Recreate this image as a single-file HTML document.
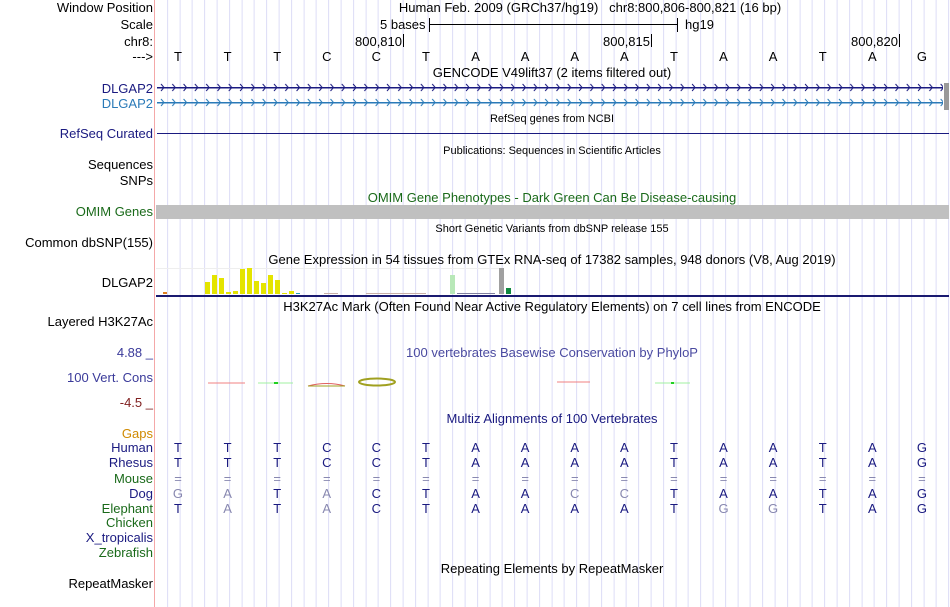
<!DOCTYPE html>
<html><head><meta charset="utf-8"><style>
body{margin:0;width:950px;height:607px;background:#fff;overflow:hidden;position:relative;font-family:"Liberation Sans",sans-serif;font-size:13px;color:#000}
.grid{position:absolute;left:156px;top:0;width:794px;height:607px;background:repeating-linear-gradient(90deg,transparent 0,transparent 11.4px,#dcdcf6 11.4px,#dcdcf6 12.4px);background-position:-0.4px 0}
.pink{position:absolute;left:154px;top:0;width:1px;height:607px;background:#f4a8a8}
.l{position:absolute;right:797px;white-space:nowrap;line-height:14px}
.t{position:absolute;white-space:nowrap;line-height:14px;transform:translateX(-50%)}
.s{font-size:11px}
.row{position:absolute;left:153.2px;display:flex;line-height:14px}
.row span{width:49.6px;text-align:center}
.g{color:#8888b0}
.abs{position:absolute}
</style></head><body>
<div class="grid"></div><div class="pink"></div>

<div class="l" style="top:1px">Window Position</div>
<div class="t" style="top:1px;left:590px">Human Feb. 2009 (GRCh37/hg19)&nbsp;&nbsp;&nbsp;chr8:800,806-800,821 (16 bp)</div>
<div class="l" style="top:18px">Scale</div>
<div class="abs" style="top:18px;left:380px;line-height:14px">5 bases</div>
<div class="abs" style="top:18px;left:429px;width:1px;height:14px;background:#000"></div>
<div class="abs" style="top:24px;left:429px;width:248px;height:1px;background:#000"></div>
<div class="abs" style="top:18px;left:677px;width:1px;height:14px;background:#000"></div>
<div class="abs" style="top:18px;left:685px;line-height:14px">hg19</div>
<div class="l" style="top:35px">chr8:</div>
<div class="abs" style="top:35px;left:355px;line-height:14px">800,810</div><div class="abs" style="top:34px;left:403px;width:1px;height:13px;background:#000"></div>
<div class="abs" style="top:35px;left:603px;line-height:14px">800,815</div><div class="abs" style="top:34px;left:651px;width:1px;height:13px;background:#000"></div>
<div class="abs" style="top:35px;left:851px;line-height:14px">800,820</div><div class="abs" style="top:34px;left:899px;width:1px;height:13px;background:#000"></div>
<div class="l" style="top:50px">---&gt;</div>
<div class="row" style="top:50px"><span>T</span><span>T</span><span>T</span><span>C</span><span>C</span><span>T</span><span>A</span><span>A</span><span>A</span><span>A</span><span>T</span><span>A</span><span>A</span><span>T</span><span>A</span><span>G</span></div>
<div class="t" style="top:66px;left:552px">GENCODE V49lift37 (2 items filtered out)</div>

<div class="l" style="top:82px;color:#1a1a80">DLGAP2</div>
<div class="l" style="top:97px;color:#2a7ab8">DLGAP2</div>
<svg class="abs" style="left:0;top:0" width="950" height="140">
<defs>
<pattern id="c1" x="157" y="0" width="11.3" height="140" patternUnits="userSpaceOnUse"><path d="M4 84 L7 87.5 L4 91" stroke="#1a1a80" fill="none" stroke-width="1"/></pattern>
<pattern id="c2" x="157" y="0" width="11.3" height="140" patternUnits="userSpaceOnUse"><path d="M4 99 L7 102.5 L4 106" stroke="#2a7ab8" fill="none" stroke-width="1"/></pattern>
</defs>
<rect x="157" y="87" width="786" height="1.5" fill="#1a1a80"/>
<rect x="157" y="80" width="786" height="14" fill="url(#c1)"/>
<rect x="157" y="102" width="786" height="1.5" fill="#2a7ab8"/>
<rect x="157" y="95" width="786" height="14" fill="url(#c2)"/>
<rect x="944" y="83" width="5" height="27" fill="#999"/>
<rect x="157" y="133" width="792" height="1" fill="#1a1a80"/>
</svg>

<div class="t s" style="top:112px;left:552px">RefSeq genes from NCBI</div>
<div class="l" style="top:127px;color:#1a1a80">RefSeq Curated</div>
<div class="t s" style="top:144px;left:552px">Publications: Sequences in Scientific Articles</div>
<div class="l" style="top:158px">Sequences</div>
<div class="l" style="top:174px">SNPs</div>
<div class="t" style="top:191px;left:552px;color:#1a6a1a">OMIM Gene Phenotypes - Dark Green Can Be Disease-causing</div>
<div class="l" style="top:205px;color:#1a6a1a">OMIM Genes</div>
<div class="abs" style="top:205px;left:156px;width:793px;height:14px;background:#c0c0c0"></div>
<div class="t s" style="top:222px;left:552px">Short Genetic Variants from dbSNP release 155</div>
<div class="l" style="top:236px">Common dbSNP(155)</div>
<div class="t" style="top:253px;left:552px">Gene Expression in 54 tissues from GTEx RNA-seq of 17382 samples, 948 donors (V8, Aug 2019)</div>
<div class="l" style="top:276px">DLGAP2</div>
<div class="abs" style="top:268px;left:156px;width:346px;height:27px;border-top:1px solid #eee"></div>
<svg class="abs" style="left:0;top:0" width="950" height="300">
<g>
<rect x="163" y="292" width="4" height="2" fill="#e08020"/>
<rect x="205" y="282" width="5" height="12" fill="#e4e400"/>
<rect x="212" y="275" width="5" height="19" fill="#e4e400"/>
<rect x="219" y="278" width="5" height="16" fill="#e4e400"/>
<rect x="226" y="292" width="5" height="2" fill="#e4e400"/>
<rect x="233" y="291" width="5" height="3" fill="#e4e400"/>
<rect x="240" y="269" width="5" height="25" fill="#e4e400"/>
<rect x="247" y="268" width="5" height="26" fill="#e4e400"/>
<rect x="254" y="281" width="5" height="13" fill="#e4e400"/>
<rect x="261" y="283" width="5" height="11" fill="#e4e400"/>
<rect x="268" y="275" width="5" height="19" fill="#e4e400"/>
<rect x="275" y="280" width="5" height="14" fill="#e4e400"/>
<rect x="282" y="293" width="5" height="1" fill="#e4e400"/>
<rect x="289" y="291" width="5" height="3" fill="#e4e400"/>
<rect x="296" y="293" width="4" height="1" fill="#20a0c0"/>
<rect x="324" y="293" width="14" height="1" fill="#c8b0a8"/>
<rect x="366" y="293" width="60" height="1" fill="#c8b0a8"/>
<rect x="450" y="275" width="5" height="19" fill="#b8e8b8"/>
<rect x="457" y="293" width="38" height="1" fill="#8080a0"/>
<rect x="499" y="268" width="5" height="26" fill="#a0a0a0"/>
<rect x="506" y="288" width="5" height="6" fill="#108840"/>
<rect x="156" y="295" width="793" height="2" fill="#1a1a70"/>
<rect x="156" y="342" width="793" height="1" fill="#5544aa"/>
</g></svg>
<div class="t" style="top:300px;left:552px">H3K27Ac Mark (Often Found Near Active Regulatory Elements) on 7 cell lines from ENCODE</div>
<div class="l" style="top:315px">Layered H3K27Ac</div>

<div class="l" style="top:346px;color:#3a3a9a">4.88 _</div>
<div class="t" style="top:346px;left:552px;color:#4a4aa0">100 vertebrates Basewise Conservation by PhyloP</div>
<div class="l" style="top:371px;color:#3a3a9a">100 Vert. Cons</div>
<div class="l" style="top:396px;color:#802020">-4.5 _</div>
<svg class="abs" style="left:0;top:370px" width="950" height="25">
<line x1="208" y1="13" x2="245" y2="13" stroke="#f08080" stroke-width="1"/>
<line x1="258" y1="13" x2="293" y2="13" stroke="#a0f0a0" stroke-width="1"/>
<rect x="274" y="12" width="4" height="2" fill="#20d020"/>
<path d="M308 16 Q327 11 345 16" stroke="#e06060" fill="none"/>
<line x1="308" y1="16" x2="345" y2="16" stroke="#a0a020"/>
<ellipse cx="377" cy="12" rx="18" ry="3.5" fill="none" stroke="#a0a020" stroke-width="2"/>
<line x1="557" y1="12" x2="590" y2="12" stroke="#f08080"/>
<line x1="655" y1="13" x2="690" y2="13" stroke="#a0f0a0"/>
<rect x="671" y="12" width="3" height="2" fill="#20d020"/>
</svg>

<div class="t" style="top:412px;left:552px;color:#1a1a80">Multiz Alignments of 100 Vertebrates</div>
<div class="l" style="top:427px;color:#d08a00">Gaps</div>
<div class="l" style="top:441px;color:#1a1a80">Human</div>
<div class="l" style="top:456px;color:#1a1a80">Rhesus</div>
<div class="l" style="top:472px;color:#1a6a1a">Mouse</div>
<div class="l" style="top:487px;color:#1a1a80">Dog</div>
<div class="l" style="top:502px;color:#1a6a1a">Elephant</div>
<div class="l" style="top:516px;color:#1a6a1a">Chicken</div>
<div class="l" style="top:531px;color:#1a1a80">X_tropicalis</div>
<div class="l" style="top:546px;color:#1a6a1a">Zebrafish</div>
<div class="row" style="top:441px;color:#1a1a80"><span>T</span><span>T</span><span>T</span><span>C</span><span>C</span><span>T</span><span>A</span><span>A</span><span>A</span><span>A</span><span>T</span><span>A</span><span>A</span><span>T</span><span>A</span><span>G</span></div>
<div class="row" style="top:456px;color:#1a1a80"><span>T</span><span>T</span><span>T</span><span>C</span><span>C</span><span>T</span><span>A</span><span>A</span><span>A</span><span>A</span><span>T</span><span>A</span><span>A</span><span>T</span><span>A</span><span>G</span></div>
<div class="row g" style="top:472px"><span>=</span><span>=</span><span>=</span><span>=</span><span>=</span><span>=</span><span>=</span><span>=</span><span>=</span><span>=</span><span>=</span><span>=</span><span>=</span><span>=</span><span>=</span><span>=</span></div>
<div class="row" style="top:487px;color:#1a1a80"><span class="g">G</span><span class="g">A</span><span>T</span><span class="g">A</span><span>C</span><span>T</span><span>A</span><span>A</span><span class="g">C</span><span class="g">C</span><span>T</span><span>A</span><span>A</span><span>T</span><span>A</span><span>G</span></div>
<div class="row" style="top:502px;color:#1a1a80"><span>T</span><span class="g">A</span><span>T</span><span class="g">A</span><span>C</span><span>T</span><span>A</span><span>A</span><span>A</span><span>A</span><span>T</span><span class="g">G</span><span class="g">G</span><span>T</span><span>A</span><span>G</span></div>

<div class="t" style="top:562px;left:552px">Repeating Elements by RepeatMasker</div>
<div class="l" style="top:577px">RepeatMasker</div>
</body></html>
